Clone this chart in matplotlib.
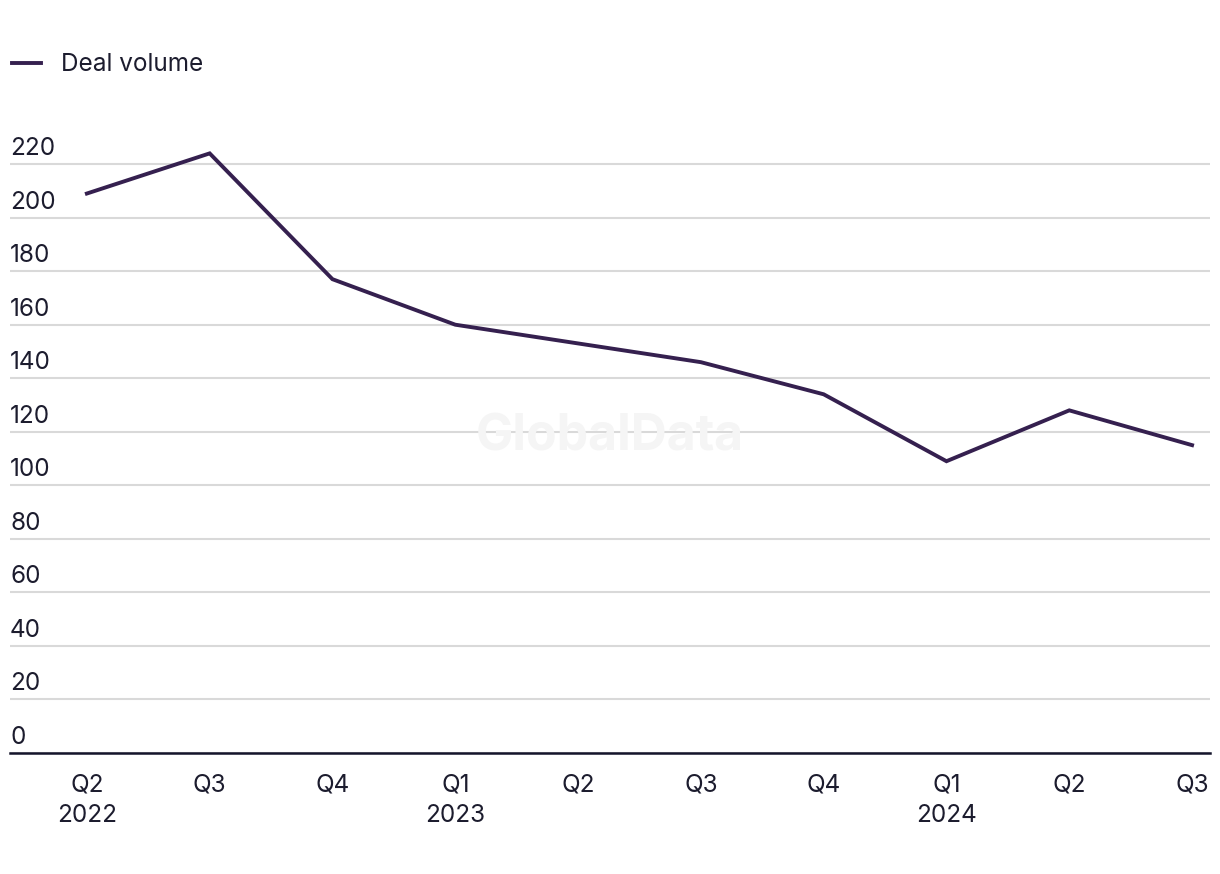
import matplotlib
matplotlib.use("Agg")
import matplotlib.pyplot as plt
from matplotlib.transforms import ScaledTranslation

quarters = ["Q2\n2022", "Q3", "Q4", "Q1\n2023", "Q2", "Q3", "Q4", "Q1\n2024", "Q2", "Q3"]
deal_volume = [209, 224, 177, 160, 153, 146, 134, 109, 128, 115]
y_ticks = [0, 20, 40, 60, 80, 100, 120, 140, 160, 180, 200, 220]

plt.rcParams['font.family'] = ['Inter', 'DejaVu Sans']

fig = plt.figure(figsize=(12.2, 8.74), dpi=100)
ax = fig.add_axes([10/1220, 1 - 753/874, 1200/1220, (753 - 150.7)/874])

line_color = "#35204f"
text_color = "#1c1c2e"
fs = 17.5

x = list(range(len(deal_volume)))
ax.plot(x, deal_volume, color=line_color, lw=2.8, label="Deal volume",
        solid_joinstyle="miter", clip_on=False, zorder=3)

ax.set_xlim(-0.626, 9.146)
ax.set_ylim(0, 225)
ax.set_yticks(y_ticks)
ax.set_yticklabels([str(v) for v in y_ticks], ha="left", va="baseline",
                   fontsize=fs, color=text_color)
ax.tick_params(axis="y", length=0, pad=0)
off = ScaledTranslation(0, 9/100, fig.dpi_scale_trans)
for lab in ax.get_yticklabels():
    lab.set_transform(lab.get_transform() + off)

ax.set_xticks(x)
ax.set_xticklabels(quarters, fontsize=fs, color=text_color, linespacing=1.42)
ax.tick_params(axis="x", length=0, pad=15)

ax.grid(axis="y", color="#d9d9d9", lw=1.5)
ax.set_axisbelow(True)
for s in ["top", "right", "left"]:
    ax.spines[s].set_visible(False)
ax.spines["bottom"].set_color("#14142b")
ax.spines["bottom"].set_linewidth(1.8)
ax.spines["bottom"].set_zorder(4)

# watermark
ax.text(0.5, 1 - (437 - 150.7)/(753 - 150.7), "GlobalData", transform=ax.transAxes,
        ha="center", va="center", fontsize=36, fontweight="bold", color="#f5f5f5", zorder=1)

leg = fig.legend(loc="upper left", bbox_to_anchor=(0.0, 1 - 41/874), frameon=False,
                 fontsize=fs, handlelength=1.2, handletextpad=0.8,
                 borderaxespad=0, borderpad=0.5)
for t in leg.get_texts():
    t.set_color(text_color)

fig.savefig("out.png", dpi=100, facecolor="white")
